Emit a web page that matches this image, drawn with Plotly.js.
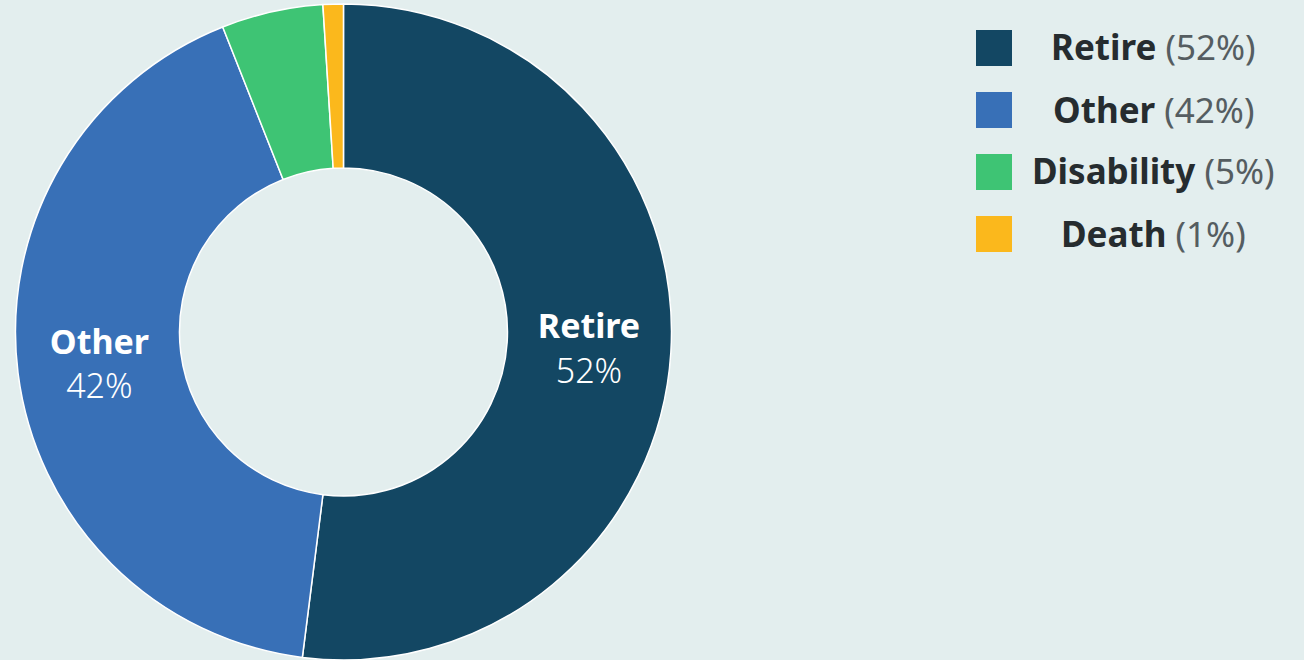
<!DOCTYPE html>
<html>
<head>
<meta charset="utf-8">
<script src="https://cdn.plot.ly/plotly-3.0.1.min.js"></script>
<style>
  html, body { margin: 0; padding: 0; background: #e3eeee; }
  #chart { width: 1304px; height: 660px; }
</style>
</head>
<body>
<div id="chart"></div>
<script>
// reasons for leaving, share of total
const categories = ["Retire", "Other", "Disability", "Death"];
const shares = [52, 42, 5, 1];
const colors = ["#134763", "#3870b7", "#3ec474", "#fbb81c"];
// only the two big slices carry a label inside the ring
const showInside = [true, true, false, false];

const font = "'Noto Sans', 'Open Sans', sans-serif";

let templates = categories.map((c, i) =>
	showInside[i] ? "<b>%{label}</b><br><span style='font-weight:300'>%{value}%</span>" : "");

let trace = {
	type: "pie",
	labels: categories,
	values: shares,
	hole: 0.5,
	sort: false,
	direction: "clockwise",
	rotation: 0,
	marker: { colors: colors, line: { color: "#ffffff", width: 1.5 } },
	texttemplate: templates,
	textposition: "inside",
	insidetextorientation: "horizontal",
	insidetextfont: { color: "#ffffff", size: 34, family: font },
	hoverinfo: "label+percent",
	showlegend: false,
	domain: { x: [0.0107, 0.5161], y: [0.0, 0.994] }
};

// hand-built legend: big squares on the left, centred text to the right
let shapes = [];
let annotations = [];
categories.forEach((c, i) => {
	let top = 30 + i * 62;
	shapes.push({
		type: "rect", xref: "paper", yref: "paper",
		x0: 976 / 1304, x1: 1012 / 1304,
		y0: 1 - (top + 36) / 660, y1: 1 - top / 660,
		fillcolor: colors[i], line: { width: 0 }
	});
	annotations.push({
		xref: "paper", yref: "paper",
		x: 1153 / 1304, y: 1 - (top + 17) / 660,
		xanchor: "center", yanchor: "middle",
		showarrow: false,
		text: "<b>" + c + "</b> <span style='color:#555d61'>(" + shares[i] + "%)</span>",
		font: { size: 35, color: "#262c2f", family: font }
	});
});

let layout = {
	width: 1304,
	height: 660,
	margin: { l: 0, r: 0, t: 0, b: 0 },
	paper_bgcolor: "#e3eeee",
	plot_bgcolor: "#e3eeee",
	font: { family: font },
	shapes: shapes,
	annotations: annotations
};

Plotly.newPlot("chart", [trace], layout, { displayModeBar: false, staticPlot: true });
</script>
</body>
</html>
